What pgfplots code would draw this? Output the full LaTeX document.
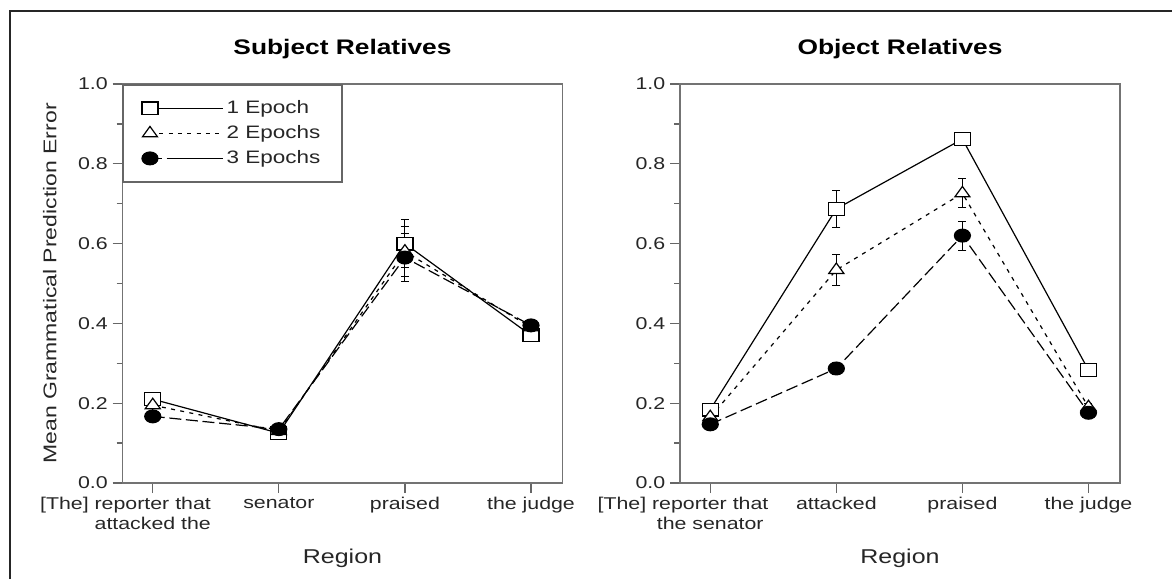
\documentclass[border=0pt]{standalone}
\usepackage{pgfplots}
\pgfplotsset{compat=1.18}
\usepackage{fontspec}
\setmainfont{Liberation Sans}[FakeStretch=1.25]

% Mean error per region, with error bars (y, e)
\pgfplotstableread{
x y e
0 0.210 0.012
1 0.125 0.010
2 0.600 0.060
3 0.370 0.010
}\subjA
\pgfplotstableread{
x y e
0 0.195 0.012
1 0.130 0.010
2 0.580 0.062
3 0.390 0.010
}\subjB
\pgfplotstableread{
x y e
0 0.167 0.010
1 0.135 0.010
2 0.565 0.060
3 0.395 0.010
}\subjC
\pgfplotstableread{
x y e
0 0.184 0.010
1 0.687 0.047
2 0.862 0.012
3 0.283 0.010
}\objA
\pgfplotstableread{
x y e
0 0.165 0.010
1 0.534 0.038
2 0.726 0.036
3 0.190 0.010
}\objB
\pgfplotstableread{
x y e
0 0.147 0.010
1 0.287 0.015
2 0.620 0.036
3 0.176 0.010
}\objC

\pgfplotsset{
  relpanel/.style={
    scale only axis,
    width=330pt, height=299.25pt,
    xmin=-0.24, xmax=3.25,
    ymin=0, ymax=1,
    xtick={0,1,2,3},
    ytick={0,0.2,0.4,0.6,0.8,1.0},
    minor y tick num=1,
    tick pos=left,
    tick align=outside,
    major tick length=7.5pt,
    minor tick length=4.5pt,
    axis line style={black!55, line width=1.2pt},
    every tick/.style={black!60, line width=1pt},
    yticklabel style={/pgf/number format/.cd, fixed, fixed zerofill, precision=1, assume math mode=true},
    ticklabel style={font=\fontsize{12.8pt}{15pt}\selectfont, text=black!85},
    xticklabel style={align=center, inner sep=3pt},
    title style={font=\fontsize{15.8pt}{18pt}\selectfont\bfseries,
                 at={(axis description cs:0.5,1.068)}, anchor=center},
    xlabel style={font=\fontsize{15pt}{17pt}\selectfont, text=black!85,
                 at={(axis description cs:0.5,-0.19)}, anchor=center},
    xlabel={Region},
    error bars/y dir=both,
    error bars/y explicit,
    error bars/error bar style={black, line width=0.7pt, solid},
    error bars/error mark options={rotate=90, mark size=3pt, line width=0.7pt, black, solid},
    legend image code/.code={
      \path (0pt,0pt) -- (55pt,0pt);
      \draw[##1, mark=none] (21pt,0pt) -- (52.5pt,0pt);
      \draw[##1] plot[only marks] coordinates {(0pt,0pt)};
    },
  },
  ep1/.style={black, line width=0.9pt, solid, mark=square*, mark size=4.8pt,
              mark options={solid, fill=white, xscale=1.25, line width=0.9pt}},
  ep2/.style={black, line width=0.9pt, dash pattern=on 3pt off 4pt, mark=triangle*, mark size=5.2pt,
              mark options={solid, fill=white, xscale=1.25, line width=0.9pt}},
  ep3/.style={black, line width=0.9pt, dash pattern=on 9pt off 3.5pt, mark=*, mark size=4.8pt,
              mark options={solid, fill=black, xscale=1.25}},
}

\begin{document}
\begin{tikzpicture}
\useasboundingbox (0pt,0pt) rectangle (879pt,434.25pt);
% frame round the two panels
\draw[black!85, line width=1.5pt] (7.5pt,0pt) -- (7.5pt,426pt) -- (879pt,426pt);

\begin{axis}[relpanel,
  at={(91.875pt,72pt)}, anchor=south west,
  title={Subject Relatives},
  xticklabels={{\llap{[The] }reporter that\\attacked the}, senator, praised, the judge},
  ylabel={Mean Grammatical Prediction Error},
  ylabel style={font=\fontsize{13.8pt}{15pt}\selectfont, text=black!85,
                at={(axis description cs:-0.165,0.5)}, anchor=center},
  legend style={at={(axis description cs:0,1)}, anchor=north west,
                draw=black!60, line width=1.2pt, fill=white,
                inner xsep=14pt, inner ysep=10pt, row sep=3.5pt,
                font=\fontsize{13.5pt}{16pt}\selectfont, text=black!85,
                nodes={inner sep=2pt}},
  legend cell align=left,
]
\addplot[ep1] table[x=x, y=y, y error=e] {\subjA};
\addlegendentry{1 Epoch}
\addplot[ep2] table[x=x, y=y, y error=e] {\subjB};
\addlegendentry{2 Epochs}
\addplot[ep3] table[x=x, y=y, y error=e] {\subjC};
\addlegendentry{3 Epochs}
\end{axis}

\begin{axis}[relpanel,
  at={(510pt,72pt)}, anchor=south west,
  title={Object Relatives},
  xticklabels={{\llap{[The] }reporter that\\the senator}, attacked, praised, the judge},
]
\addplot[ep1] table[x=x, y=y, y error=e] {\objA};
\addplot[ep2] table[x=x, y=y, y error=e] {\objB};
\addplot[ep3] table[x=x, y=y, y error=e] {\objC};
\end{axis}
\end{tikzpicture}
\end{document}
